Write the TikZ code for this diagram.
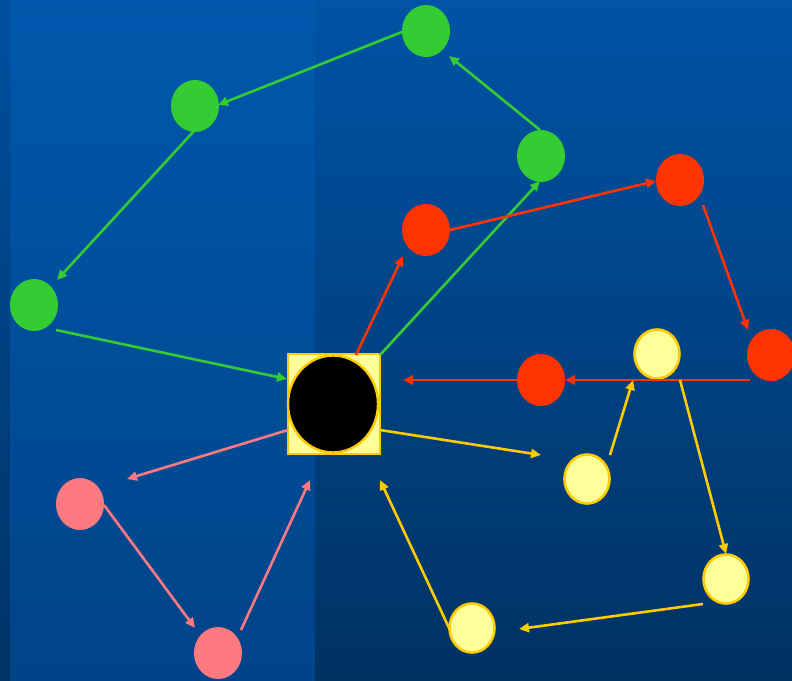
\documentclass[tikz,border=0pt]{standalone}
\usetikzlibrary{arrows.meta,shapes.geometric}
\definecolor{gr}{HTML}{33CC33}
\definecolor{rd}{HTML}{FF3300}
\definecolor{yl}{HTML}{FFCC00}
\definecolor{lyl}{HTML}{FFFF99}
\definecolor{pk}{HTML}{FF7A80}
\definecolor{bgAtop}{HTML}{004F9F}
\definecolor{bgAbot}{HTML}{003366}
\definecolor{bgBtop}{HTML}{0058AC}
\definecolor{bgBbot}{HTML}{004388}
\definecolor{bgCtop}{HTML}{0053A6}
\definecolor{bgCbot}{HTML}{003262}
\begin{document}
\begin{tikzpicture}[x=1pt,y=-1pt,
  dot/.style={ellipse,minimum width=48pt,minimum height=52pt,inner sep=0pt},
  gdot/.style={dot,fill=gr},
  rdot/.style={dot,fill=rd},
  pdot/.style={dot,fill=pk},
  ydot/.style={ellipse,minimum width=45pt,minimum height=49pt,inner sep=0pt,fill=lyl,draw=yl,line width=2.6pt},
  conn/.style={line width=2.6pt,-{Triangle[length=10pt,width=9pt]}},
  gl/.style={conn,draw=gr,fill=gr},
  rl/.style={conn,draw=rd,fill=rd},
  yline/.style={conn,draw=yl,fill=yl},
  pl/.style={conn,draw=pk,fill=pk}]
\useasboundingbox (0,0) rectangle (792,680);
\shade[top color=bgAtop,bottom color=bgAbot] (0,0) rectangle (10,680);
\shade[top color=bgBtop,bottom color=bgBbot] (10,0) rectangle (315,680);
\shade[top color=bgCtop,bottom color=bgCbot] (315,0) rectangle (792,680);
% nodes
\node[gdot] (g1) at (426,31) {};
\node[gdot] (g2) at (195,106) {};
\node[gdot] (g3) at (541,156) {};
\node[gdot] (g4) at (34,305) {};
\node[rdot] (r1) at (426,230) {};
\node[rdot] (r2) at (680,180) {};
\node[rdot] (r3) at (771,355) {};
\node[rdot] (r4) at (541,380) {};
\node[ydot] (y1) at (657,354) {};
\node[ydot] (y2) at (587,479) {};
\node[ydot] (y3) at (726,579) {};
\node[ydot] (y4) at (472,628) {};
\node[pdot] (p1) at (80,504) {};
\node[pdot] (p2) at (218,653) {};
\node[rectangle,minimum width=92pt,minimum height=100pt,inner sep=0pt,fill=lyl,draw=yl,line width=2.8pt] (c) at (334,404) {};
\node[ellipse,minimum width=90pt,minimum height=97pt,inner sep=0pt,fill=black,draw=yl,line width=2.4pt] (ce) at (333,404) {};
% connector ends
\coordinate (a1) at (402,32); \coordinate (b1) at (218,105);
\coordinate (a2) at (195,130); \coordinate (b2) at (57,280);
\coordinate (a3) at (56,330); \coordinate (b3) at (287,379);
\coordinate (a4) at (380,355); \coordinate (b4) at (540,181);
\coordinate (a5) at (540,130); \coordinate (b5) at (449,56);
\coordinate (a6) at (356,355); \coordinate (b6) at (403,256);
\coordinate (a7) at (450,230); \coordinate (b7) at (656,181);
\coordinate (a8) at (703,205); \coordinate (b8) at (748,330);
\coordinate (a9) at (750,380); \coordinate (b9) at (565,380);
\coordinate (a10) at (518,380); \coordinate (b10) at (403,380);
\coordinate (a11) at (380,430); \coordinate (b11) at (541,455);
\coordinate (a12) at (610,455); \coordinate (b12) at (633,380);
\coordinate (a13) at (680,380); \coordinate (b13) at (726,554);
\coordinate (a14) at (703,604); \coordinate (b14) at (519,629);
\coordinate (a15) at (450,630); \coordinate (b15) at (380,480);
\coordinate (a16) at (288,430); \coordinate (b16) at (127,479);
\coordinate (a17) at (104,505); \coordinate (b17) at (195,628);
\coordinate (a18) at (241,630); \coordinate (b18) at (310,480);
% green
\draw[gl] (a1) -- (b1);
\draw[gl] (a2) -- (b2);
\draw[gl] (a3) -- (b3);
\draw[gl] (a4) -- (b4);
\draw[gl] (a5) -- (b5);
% red
\draw[rl] (a6) -- (b6);
\draw[rl] (a7) -- (b7);
\draw[rl] (a8) -- (b8);
\draw[rl] (a9) -- (b9);
\draw[rl] (a10) -- (b10);
% yellow
\draw[yline] (a11) -- (b11);
\draw[yline] (a12) -- (b12);
\draw[yline] (a13) -- (b13);
\draw[yline] (a14) -- (b14);
\draw[yline] (a15) -- (b15);
% pink
\draw[pl] (a16) -- (b16);
\draw[pl] (a17) -- (b17);
\draw[pl] (a18) -- (b18);
\end{tikzpicture}
\end{document}
